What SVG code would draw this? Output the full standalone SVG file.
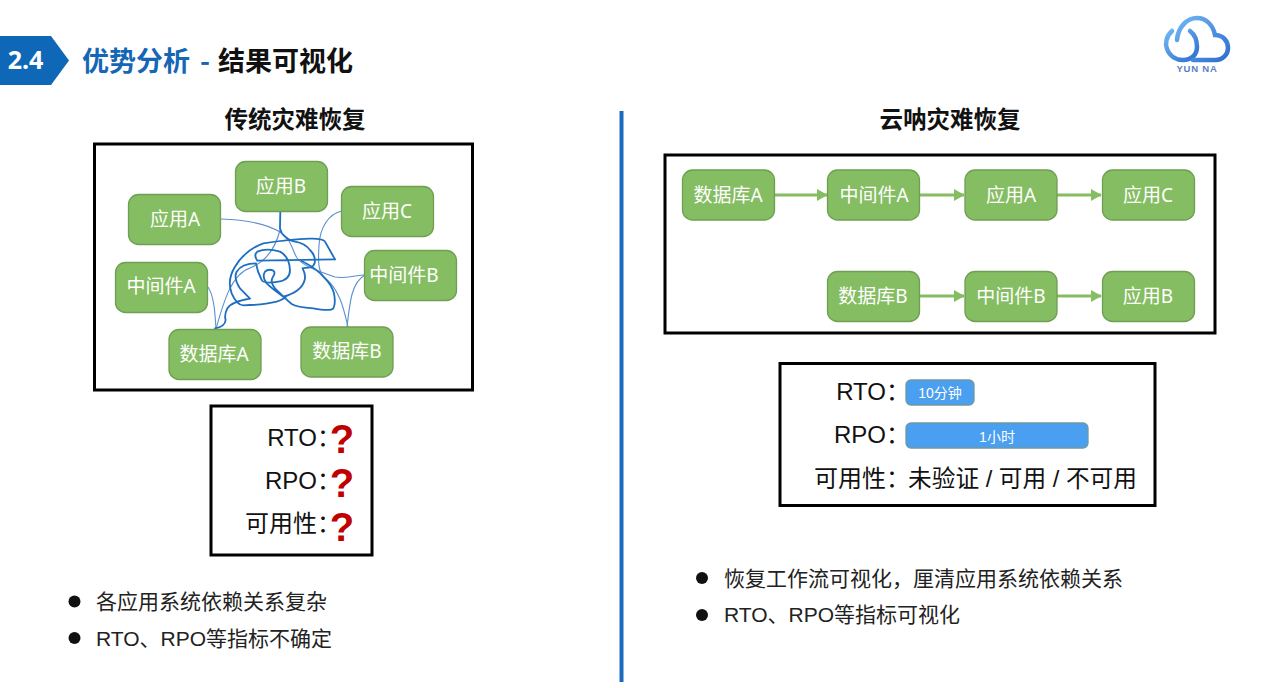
<svg xmlns="http://www.w3.org/2000/svg" width="1270" height="688" viewBox="0 0 1270 688">
  <style>
    text { font-family: "Liberation Sans", "Noto Sans CJK SC", sans-serif; }
    .frame { fill: #fff; stroke: #000; stroke-width: 3; }
    .node rect { fill: #85bd62; stroke: #6f9f52; stroke-width: 1.3; }
    .node text { fill: #fff; font-size: 19px; text-anchor: middle; font-family: "Noto Sans", "Noto Sans CJK SC", sans-serif; font-weight: 400; }
    .heading { font-size: 23.500px; font-weight: 700; fill: #111; text-anchor: middle; font-family: "Noto Sans CJK SC", sans-serif; }
    .metric { font-size: 24px; fill: #111; text-anchor: end; }
    .tight { font-feature-settings: "halt"; }
    .mark { font-size: 40px; font-weight: 700; fill: #c00000; text-anchor: middle; font-family: "Liberation Sans", sans-serif; }
    .bar { fill: #4a9ff0; stroke: #6d9aa0; stroke-width: 1.3; }
    .barlabel { font-size: 14px; fill: #fff; text-anchor: middle; }
    .note { font-size: 21px; fill: #222; }
    .flow { stroke: #85bd62; stroke-width: 3; fill: none; marker-end: url(#head); }
    .tangle { stroke: #1f6fc0; stroke-width: 5.500; fill: none; stroke-linejoin: round; stroke-linecap: round; }
    .dep { stroke: #5a8fd0; stroke-width: 1.100; fill: none; }
    .logo { fill: none; stroke-linecap: round; stroke-width: 4.500; }
  </style>
  <defs>
    <marker id="head" markerWidth="4" markerHeight="4" refX="3.400" refY="2" orient="auto">
      <path d="M0,0 L3.600,2 L0,4 Z" fill="#85bd62"/>
    </marker>
    <linearGradient id="logoGrad" x1="0" y1="0" x2="1" y2="1">
      <stop offset="0" stop-color="#6fb6f2"/>
      <stop offset="1" stop-color="#2f6fd0"/>
    </linearGradient>
  </defs>

  <rect width="1270" height="688" fill="#fff"/>

  <!-- Section header -->
  <g id="header">
    <polygon points="0,36 51,36 69,60.500 51,85 0,85" fill="#0f67b8"/>
    <text x="25.500" y="69" font-size="25" font-weight="700" fill="#fff" text-anchor="middle" style="font-family:'Noto Sans','Open Sans',sans-serif">2.4</text>
    <text x="82" y="71" font-size="27" font-weight="700" fill="#1566b5" style="font-family:'Noto Sans CJK SC',sans-serif">优势分析</text>
    <text x="200" y="71" font-size="27" font-weight="700" fill="#1566b5" style="font-family:'Noto Sans CJK SC',sans-serif">-</text>
    <text x="218" y="71" font-size="27" font-weight="700" fill="#111" style="font-family:'Noto Sans CJK SC',sans-serif">结果可视化</text>
  </g>

  <!-- Brand mark -->
  <g id="logo">
    <path class="logo" stroke="url(#logoGrad)" d="M1172,31 C1166,36 1165,44 1167,49 C1170,57 1177,60 1183,60 C1191,60 1197,55 1197,47 C1197,40 1194,34 1190,31"/>
    <path class="logo" stroke="url(#logoGrad)" d="M1177,40 C1178,27 1187,18 1197,18 C1206,18 1213,25 1215,35 C1223,35 1228,41 1228,48 C1228,55 1222,60 1216,60 L1193,60"/>
    <text x="1197" y="72" font-size="9.500" font-weight="700" fill="#5b7fc4" text-anchor="middle" letter-spacing="0.800">YUN NA</text>
  </g>

  <line id="divider" x1="621.500" y1="111" x2="621.500" y2="682" stroke="#1a6bbd" stroke-width="4"/>

  <text class="heading" x="295" y="128">传统灾难恢复</text>
  <text class="heading" x="950" y="128">云呐灾难恢复</text>

  <rect id="left-frame" class="frame" x="94.500" y="144" width="378" height="246"/>
  <rect id="right-frame" class="frame" x="665" y="155" width="550" height="178"/>

  <!-- Tangled dependencies of the traditional setup -->
  <g id="left-connectors">
    <path class="dep" d="M221,219 C250,220 270,226 280,232 C292,240 292,250 297,258 C305,268 322,272 335,277 C345,279 356,275 365,275"/>
    <path class="dep" d="M342,211 C328,214 320,228 319,245 C318,262 318,272 325,278 C340,290 344,310 348,327"/>
    <path class="dep" d="M365,275 C352,282 350,300 347,327"/>
    <path class="dep" d="M208,287 C214,296 215,312 216,329"/>
    <path class="dep" d="M280,230 C275,250 265,262 250,268 C232,274 224,300 216,329"/>
    <g transform="translate(200 200) scale(0.3333)">
      <path class="tangle" d="M241,33 L240,85 Q243,100 255,110 Q268,122 285,125 Q315,130 330,150 Q345,165 345,182 Q345,200 325,203 Q305,205 308,205 Q318,225 314,240 Q305,275 250,290 Q215,265 200,250 Q185,232 195,215 Q205,205 220,212 Q228,218 218,232 Q208,250 232,272 Q258,298 275,312 Q290,322 340,325 Q392,335 400,325 Q408,310 402,280 Q395,255 375,235 Q350,205 305,183"/>
      <path class="tangle" d="M405,178 L375,125 Q370,115 330,116 Q270,118 190,130 Q135,150 105,200 Q80,240 95,280 Q110,315 130,316 Q190,315 230,305 Q250,298 258,290"/>
      <path class="tangle" d="M405,178 L172,182 Q160,165 172,155 Q200,143 240,155 Q268,170 270,210 Q270,240 235,245 Q190,252 185,240 Q172,215 168,190 Q125,190 110,215 Q100,235 120,265 L150,296 Q95,305 82,325 Q72,345 77,360 Q75,380 45,385"/>
    </g>
  </g>

  <g id="l-app-a" class="node"><rect x="128.500" y="194.500" width="92" height="50" rx="10"/><text x="175" y="226">应用A</text></g>
  <g id="l-app-b" class="node"><rect x="235.500" y="161.500" width="92" height="50" rx="10"/><text x="281" y="193">应用B</text></g>
  <g id="l-app-c" class="node"><rect x="341.500" y="186.500" width="92" height="50" rx="10"/><text x="387" y="218">应用C</text></g>
  <g id="l-mid-a" class="node"><rect x="115.500" y="262.500" width="92" height="50" rx="10"/><text x="161" y="293">中间件A</text></g>
  <g id="l-mid-b" class="node"><rect x="364.500" y="250.500" width="92" height="50" rx="10"/><text x="404" y="282">中间件B</text></g>
  <g id="l-db-a" class="node"><rect x="169" y="329.500" width="92" height="50" rx="10"/><text x="214" y="361">数据库A</text></g>
  <g id="l-db-b" class="node"><rect x="301" y="327" width="92" height="50" rx="10"/><text x="347" y="358">数据库B</text></g>

  <!-- Ordered recovery workflow -->
  <g id="right-connectors">
    <line class="flow" x1="775" y1="195" x2="827" y2="195"/>
    <line class="flow" x1="920" y1="195" x2="964" y2="195"/>
    <line class="flow" x1="1057" y1="195" x2="1101" y2="195"/>
    <line class="flow" x1="920" y1="296" x2="964" y2="296"/>
    <line class="flow" x1="1057" y1="296" x2="1101" y2="296"/>
  </g>

  <g id="r-db-a" class="node"><rect x="682.500" y="170" width="92" height="50" rx="10"/><text x="728" y="202">数据库A</text></g>
  <g id="r-mid-a" class="node"><rect x="827.500" y="170" width="92" height="50" rx="10"/><text x="874" y="202">中间件A</text></g>
  <g id="r-app-a" class="node"><rect x="965" y="170" width="92" height="50" rx="10"/><text x="1011" y="202">应用A</text></g>
  <g id="r-app-c" class="node"><rect x="1102.500" y="170" width="92" height="50" rx="10"/><text x="1148" y="202">应用C</text></g>
  <g id="r-db-b" class="node"><rect x="827.500" y="271.500" width="92" height="50" rx="10"/><text x="873" y="303">数据库B</text></g>
  <g id="r-mid-b" class="node"><rect x="965" y="271.500" width="92" height="50" rx="10"/><text x="1011" y="303">中间件B</text></g>
  <g id="r-app-b" class="node"><rect x="1102.500" y="271.500" width="92" height="50" rx="10"/><text x="1148" y="303">应用B</text></g>

  <!-- Metrics: traditional -->
  <g id="left-metrics">
    <rect class="frame" x="211" y="406" width="161" height="149"/>
    <text class="metric tight" x="329" y="446">RTO：</text>
    <text class="metric tight" x="329" y="489">RPO：</text>
    <text class="metric tight" x="329" y="532" style="font-family:'Noto Sans CJK SC',sans-serif">可用性：</text>
    <text class="mark" x="342" y="453">?</text>
    <text class="mark" x="342" y="497">?</text>
    <text class="mark" x="342" y="541">?</text>
  </g>

  <!-- Metrics: workflow based -->
  <g id="right-metrics">
    <rect class="frame" x="780" y="363.500" width="375" height="142"/>
    <text class="metric" x="910" y="400">RTO：</text>
    <text class="metric" x="910" y="443">RPO：</text>
    <text class="metric" x="910" y="487" style="font-family:'Noto Sans CJK SC',sans-serif">可用性：</text>
    <rect class="bar" x="906" y="380" width="68" height="25" rx="5"/>
    <text class="barlabel" x="940" y="398">10分钟</text>
    <rect class="bar" x="906" y="423" width="182" height="25" rx="5"/>
    <text class="barlabel" x="997" y="442">1小时</text>
    <text x="908" y="487" font-size="23.700" fill="#111">未验证 / 可用 / 不可用</text>
  </g>

  <!-- Summary bullets -->
  <g id="left-notes">
    <circle cx="74.500" cy="601.500" r="6" fill="#111"/>
    <circle cx="74.500" cy="638" r="6" fill="#111"/>
    <text class="note" x="96" y="609">各应用系统依赖关系复杂</text>
    <text class="note" x="96" y="646">RTO、RPO等指标不确定</text>
  </g>
  <g id="right-notes">
    <circle cx="702" cy="578" r="6" fill="#111"/>
    <circle cx="702" cy="615" r="6" fill="#111"/>
    <text class="note" x="724" y="586">恢复工作流可视化，厘清应用系统依赖关系</text>
    <text class="note" x="724" y="622">RTO、RPO等指标可视化</text>
  </g>
</svg>
